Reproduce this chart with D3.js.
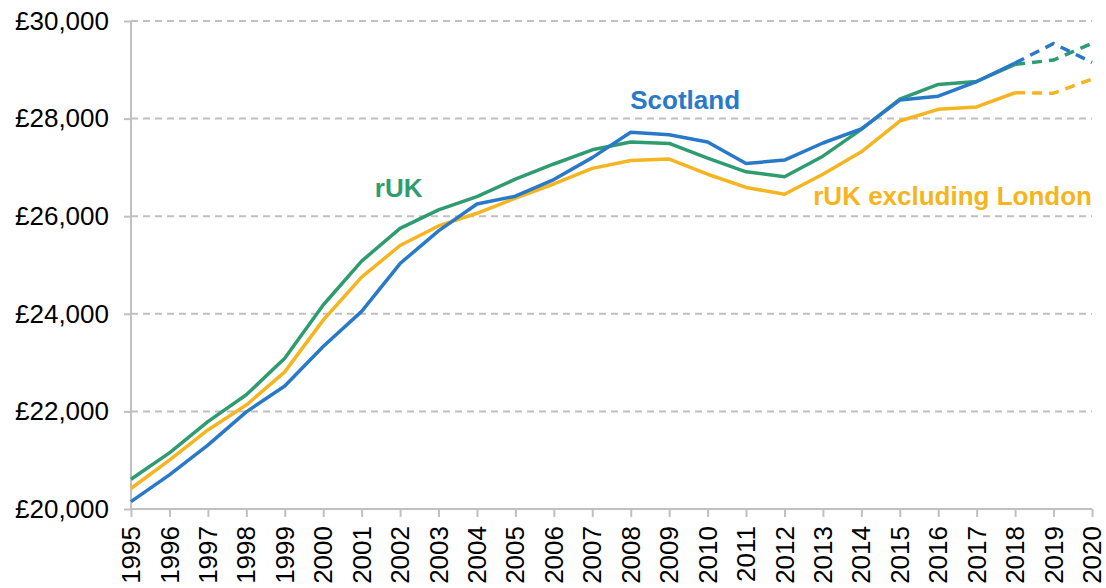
<!DOCTYPE html>
<html>
<head>
    <meta charset="utf-8">
    <title>Average earnings: Scotland vs rUK</title>
    <script type="text/javascript" src="https://cdn.jsdelivr.net/npm/d3@7"></script>
    <style type="text/css">
        html, body {
            margin: 0;
            background: #fff;
        }

        svg text {
            font-family: "Liberation Sans", Arial, sans-serif;
        }

        .grid line {
            stroke: #c0c0c0;
            stroke-width: 2;
            stroke-dasharray: 7 5;
        }

        .axis path, .axis line {
            stroke: #c0c0c0;
            stroke-width: 2;
        }

        .axis text {
            fill: #000;
            font-size: 26px;
        }

        .series {
            fill: none;
            stroke-width: 3.5;
            stroke-linejoin: round;
        }
    </style>
</head>

<body>

<script type="text/javascript">
    var w = 1106, h = 588;
    var margin = {top: 21, right: 14, bottom: 79, left: 131};

    var years = d3.range(1995, 2021);
    var lastActual = 2018; // after this the lines are dashed (forecast)

    var scotland = [20150, 20700, 21310, 21990, 22520, 23330, 24050, 25030, 25700, 26250,
        26410, 26750, 27200, 27720, 27670, 27520, 27080, 27150, 27500, 27790,
        28380, 28460, 28760, 29140, 29540, 29150];
    var ruk = [20610, 21150, 21790, 22340, 23090, 24180, 25080, 25750, 26130, 26400,
        26760, 27070, 27360, 27520, 27490, 27190, 26910, 26810, 27230, 27780,
        28400, 28700, 28760, 29110, 29200, 29540];
    var rukExLondon = [20420, 21000, 21620, 22130, 22810, 23870, 24750, 25400, 25800, 26060,
        26370, 26660, 26980, 27140, 27170, 26860, 26590, 26450, 26860, 27320,
        27950, 28190, 28240, 28530, 28520, 28810];

    var yTicks = [20000, 22000, 24000, 26000, 28000, 30000];

    // drawn in this order so blue ends up on top
    var series = [
        {name: "rUK excluding London", values: rukExLondon, color: "#f4b520",
            label: {year: 2020, value: 26230, anchor: "end", dx: 0}},
        {name: "rUK", values: ruk, color: "#2f9c70",
            label: {year: 2001, value: 26390, anchor: "middle", dx: 37}},
        {name: "Scotland", values: scotland, color: "#2979c9",
            label: {year: 2009, value: 28200, anchor: "middle", dx: 16}}
    ];

    var x = d3.scaleLinear().domain([1995, 2020]).range([margin.left, w - margin.right]);
    var y = d3.scaleLinear().domain([20000, 30000]).range([h - margin.bottom, margin.top]);

    var svg = d3.select("body")
            .append("svg")
                .attr("width", w)
                .attr("height", h);

    // gridlines
    svg.append("g")
        .attr("class", "grid")
        .selectAll("line")
        .data(yTicks.slice(1))
        .enter().append("line")
            .attr("x1", margin.left)
            .attr("x2", w - margin.right)
            .attr("y1", function (d) {return y(d);})
            .attr("y2", function (d) {return y(d);});

    // y axis
    svg.append("g")
        .attr("class", "axis")
        .attr("transform", "translate(" + margin.left + ",0)")
        .call(d3.axisLeft(y)
            .tickValues(yTicks)
            .tickSize(7)
            .tickPadding(15)
            .tickFormat(function (d) {return "£" + d3.format(",")(d);}))
        .call(function (g) {g.select(".domain").attr("d", "M0," + y(20000) + "V" + y(30000));});

    // x axis
    var xAxis = svg.append("g")
        .attr("class", "axis")
        .attr("transform", "translate(0," + y(20000) + ")")
        .call(d3.axisBottom(x)
            .tickValues(years)
            .tickSize(8)
            .tickFormat(d3.format("d")));

    xAxis.select(".domain").attr("d", "M" + x(1995) + ",0H" + x(2020));

    xAxis.selectAll("text")
        .attr("transform", "rotate(-90)")
        .attr("text-anchor", "end")
        .attr("x", -17)
        .attr("y", 0)
        .attr("dy", "0.33em");

    var line = d3.line()
        .x(function (d) {return x(d.year);})
        .y(function (d) {return y(d.value);});

    series.forEach(function (s) {
        var pts = years.map(function (yr, i) {return {year: yr, value: s.values[i]};});
        var actual = pts.filter(function (d) {return d.year <= lastActual;});
        var forecast = pts.filter(function (d) {return d.year >= lastActual;});

        svg.append("path")
            .datum(actual)
            .attr("class", "series")
            .attr("stroke", s.color)
            .attr("d", line);

        svg.append("path")
            .datum(forecast)
            .attr("class", "series")
            .attr("stroke", s.color)
            .attr("stroke-dasharray", "10 7")
            .attr("d", line);

        svg.append("text")
            .attr("x", x(s.label.year) + s.label.dx)
            .attr("y", y(s.label.value))
            .attr("text-anchor", s.label.anchor)
            .attr("fill", s.color)
            .style("font-size", "26px")
            .style("font-weight", "bold")
            .text(s.name);
    });
</script>

</body>
</html>
